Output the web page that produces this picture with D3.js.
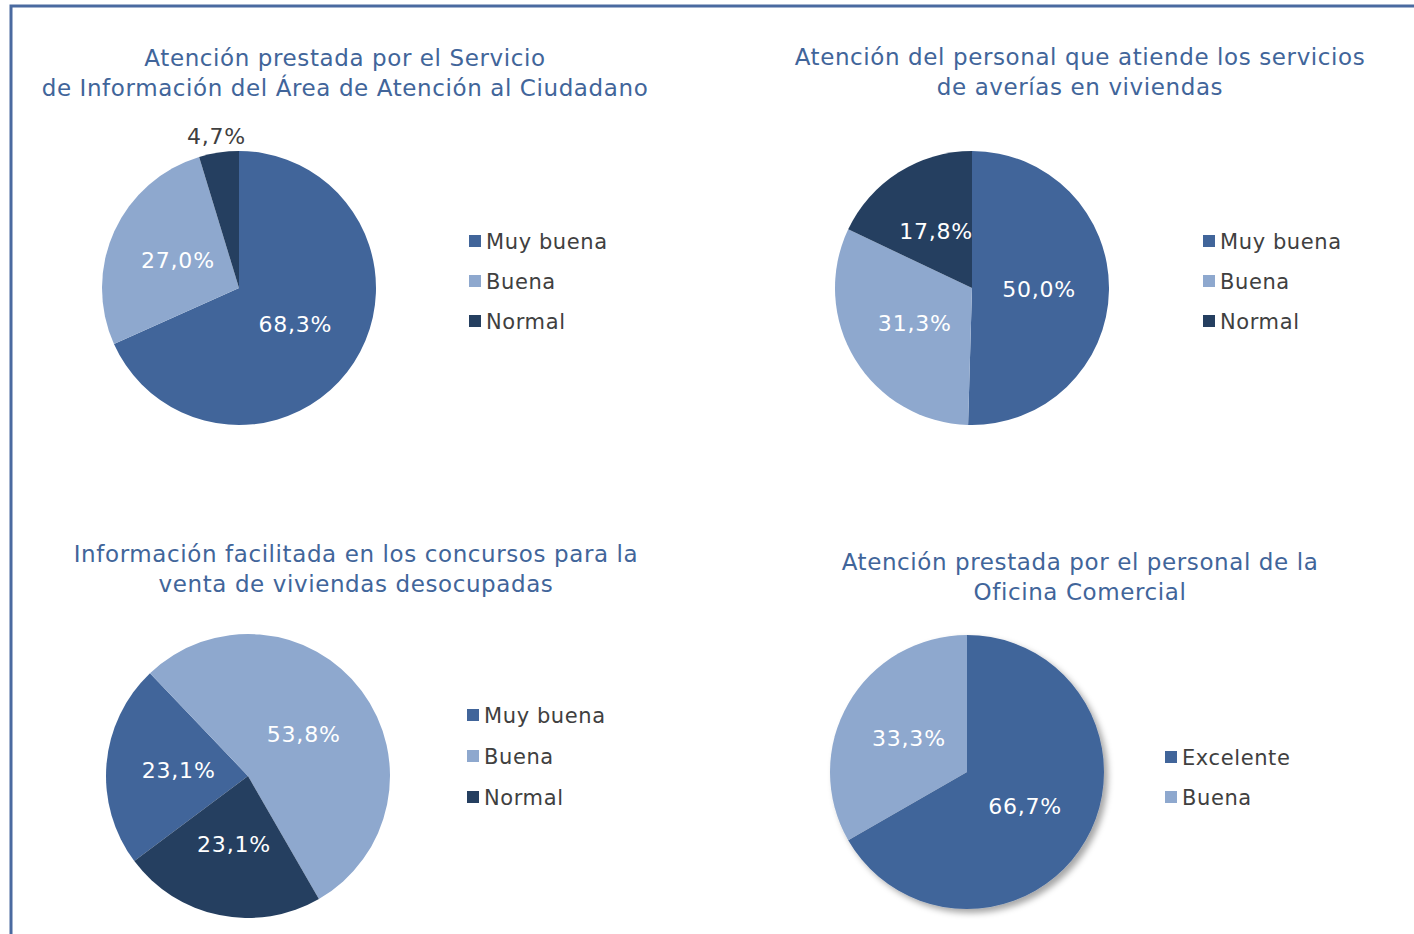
<!DOCTYPE html>
<html>
<head>
<meta charset="utf-8">
<script src="https://cdn.jsdelivr.net/npm/d3@7"></script>
<style>
  html, body { margin: 0; padding: 0; background: #fff; }
  svg { display: block; font-family: "DejaVu Sans", Verdana, sans-serif; }
</style>
</head>
<body>
<div id="chart"></div>
<script>
// ---- data ----
var titles1 = ["Atención prestada por el Servicio", "de Información del Área de Atención al Ciudadano"];
var titles2 = ["Atención del personal que atiende los servicios", "de averías en viviendas"];
var titles3 = ["Información facilitada en los concursos para la", "venta de viviendas desocupadas"];
var titles4 = ["Atención prestada por el personal de la", "Oficina Comercial"];

var categories = ["Muy buena", "Buena", "Normal"];
var categories4 = ["Excelente", "Buena"];

var values1 = [68.3, 27.0, 4.7];
var values2 = [50.0, 31.3, 17.8];
var values3 = [23.1, 53.8, 23.1];
var values4 = [66.7, 33.3];

var colors = ["#41659a", "#8ea8ce", "#253f60"];

var W = 1414, H = 934;

var svg = d3.select("#chart").append("svg")
    .attr("width", W)
    .attr("height", H);

var defs = svg.append("defs");
var shadow = defs.append("filter")
    .attr("id", "pieShadow")
    .attr("x", "-20%").attr("y", "-20%")
    .attr("width", "140%").attr("height", "140%");
shadow.append("feDropShadow")
    .attr("dx", 4).attr("dy", 4)
    .attr("stdDeviation", 3)
    .attr("flood-color", "#000")
    .attr("flood-opacity", 0.35);

// frame (only top and left edges visible)
svg.append("path")
    .attr("d", "M11," + H + "V6H" + W)
    .attr("fill", "none")
    .attr("stroke", "#4a6aa0")
    .attr("stroke-width", 3);

function fmt(v) {
    return v.toFixed(1).replace(".", ",") + "%";
}

function drawPie(opt) {
    var g = svg.append("g");

    // title
    var t = g.append("text")
        .attr("text-anchor", "middle")
        .attr("fill", "#41659a")
        .style("font-size", "23px")
        .style("letter-spacing", "0.6px");
    opt.title.forEach(function (line, i) {
        t.append("tspan")
            .attr("x", opt.titleX)
            .attr("y", opt.titleY + i * 30)
            .text(line);
    });

    var data = opt.values.map(function (v, i) {
        return {cat: opt.cats[i], value: v, color: colors[i]};
    });

    var pie = d3.pie()
        .sort(null)
        .value(function (d) { return d.value; })
        .startAngle(opt.start * Math.PI / 180)
        .endAngle(opt.start * Math.PI / 180 + 2 * Math.PI);

    var arc = d3.arc().innerRadius(0).outerRadius(opt.r);
    var labelArc = d3.arc().innerRadius(opt.r * 0.49).outerRadius(opt.r * 0.49);
    var outArc = d3.arc().innerRadius(opt.r * 1.12).outerRadius(opt.r * 1.12);

    var pg = g.append("g")
        .attr("transform", "translate(" + opt.cx + "," + opt.cy + ")");

    var slices = pg.append("g");
    if (opt.shadow) slices.attr("filter", "url(#pieShadow)");

    var arcs = pie(data);
    slices.selectAll("path")
        .data(arcs)
        .enter().append("path")
        .attr("d", arc)
        .attr("fill", function (d) { return d.data.color; });

    pg.selectAll("text.lbl")
        .data(arcs)
        .enter().append("text")
        .attr("class", "lbl")
        .attr("transform", function (d) {
            var small = (d.endAngle - d.startAngle) < 0.4;
            var c = small ? outArc.centroid(d) : labelArc.centroid(d);
            return "translate(" + c[0] + "," + c[1] + ")";
        })
        .attr("dy", "0.36em")
        .attr("text-anchor", "middle")
        .attr("fill", function (d) {
            return (d.endAngle - d.startAngle) < 0.4 ? "#404040" : "#ffffff";
        })
        .style("font-size", "22px")
        .style("letter-spacing", "0.8px")
        .text(function (d) { return fmt(d.data.value); });

    // legend
    var lg = g.append("g")
        .attr("transform", "translate(" + opt.legX + "," + opt.legY + ")");
    var rows = lg.selectAll("g")
        .data(data)
        .enter().append("g")
        .attr("transform", function (d, i) { return "translate(0," + (i * opt.legStep) + ")"; });
    rows.append("rect")
        .attr("x", 0).attr("y", -6)
        .attr("width", 12).attr("height", 12)
        .attr("fill", function (d) { return d.color; });
    rows.append("text")
        .attr("x", 17)
        .attr("dy", "0.36em")
        .attr("fill", "#404040")
        .style("font-size", "21px")
        .style("letter-spacing", "0.6px")
        .text(function (d) { return d.cat; });
}

drawPie({
    title: titles1, titleX: 345, titleY: 66,
    cats: categories, values: values1,
    cx: 239, cy: 288, r: 137, start: 0,
    legX: 469, legY: 241, legStep: 40
});

drawPie({
    title: titles2, titleX: 1080, titleY: 65,
    cats: categories, values: values2,
    cx: 972, cy: 288, r: 137, start: 0,
    legX: 1203, legY: 241, legStep: 40
});

drawPie({
    title: titles3, titleX: 356, titleY: 562,
    cats: categories, values: values3,
    cx: 248, cy: 776, r: 142, start: 233.2,
    legX: 467, legY: 715, legStep: 41
});

drawPie({
    title: titles4, titleX: 1080, titleY: 570,
    cats: categories4, values: values4,
    cx: 967, cy: 772, r: 137, start: 0, shadow: true,
    legX: 1165, legY: 757, legStep: 40
});
</script>
</body>
</html>
